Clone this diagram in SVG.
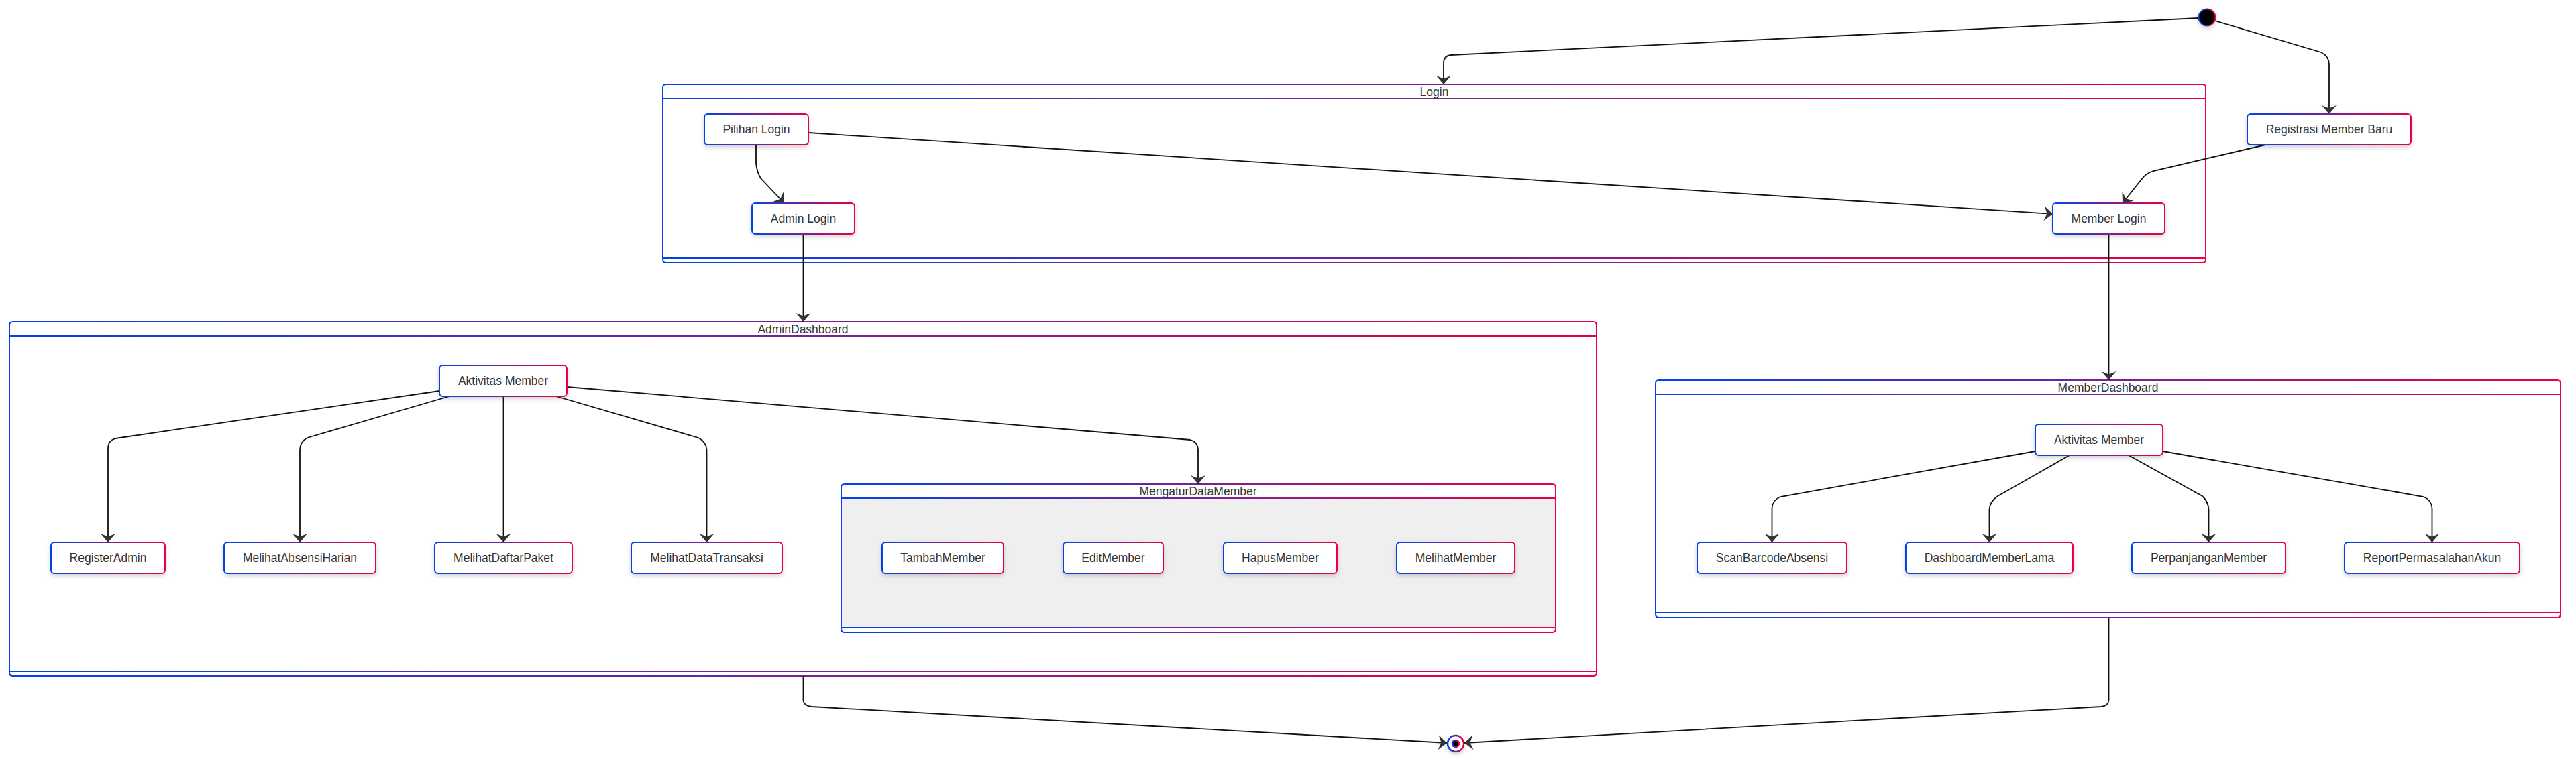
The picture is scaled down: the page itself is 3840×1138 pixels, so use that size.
<svg xmlns="http://www.w3.org/2000/svg" width="3840" height="1138" viewBox="0 0 3840 1138">
<defs>
<linearGradient id="gr" x1="0" y1="0" x2="1" y2="0"><stop offset="0" stop-color="#0042eb"/><stop offset="1" stop-color="#eb0042"/></linearGradient>
<filter id="sh" x="-20%" y="-30%" width="140%" height="180%"><feDropShadow dx="0" dy="3" stdDeviation="3" flood-color="#000" flood-opacity="0.18"/></filter>
<marker id="arr" viewBox="0 -12 13 24" refX="13" refY="0" markerWidth="13" markerHeight="24" markerUnits="userSpaceOnUse" orient="auto"><path d="M13,0 L0,-11 L4.5,0 L0,11 Z" fill="#333"/></marker>
<style>
.fr{fill:none;stroke:url(#gr);stroke-width:2}
.bg{fill:#fff}
.nd rect{fill:#fff;stroke:url(#gr);stroke-width:2;filter:url(#sh)}
text{font-family:"Liberation Sans",Arial,sans-serif;font-size:17.5px;fill:#333;text-anchor:middle;dominant-baseline:central}
.ed path{fill:none;stroke:#111;stroke-width:1.8;marker-end:url(#arr)}
</style>
</defs>
<rect width="3840" height="1138" fill="#fff"/>

<g id="Login">
<rect class="bg" x="988" y="126" width="2300" height="266" rx="5"/>
<path class="fr" d="M993,126 H3283 Q3288,126 3288,131 V387 Q3288,392 3283,392 H993 Q988,392 988,387 V131 Q988,126 993,126 Z M988,147 H3288 M988,385 H3288"/>
<text x="2138" y="137">Login</text>
</g>
<g id="AdminDashboard">
<rect class="bg" x="14" y="480" width="2366" height="528" rx="5"/>
<path class="fr" d="M19,480 H2375 Q2380,480 2380,485 V1003 Q2380,1008 2375,1008 H19 Q14,1008 14,1003 V485 Q14,480 19,480 Z M14,501 H2380 M14,1002 H2380"/>
<text x="1197" y="491">AdminDashboard</text>
</g>
<g id="MengaturDataMember">
<rect class="bg" x="1254" y="722" width="1065" height="221" rx="5"/>
<rect x="1254" y="743" width="1065" height="193" fill="#efefef"/>
<path class="fr" d="M1259,722 H2314 Q2319,722 2319,727 V938 Q2319,943 2314,943 H1259 Q1254,943 1254,938 V727 Q1254,722 1259,722 Z M1254,743 H2319 M1254,936 H2319"/>
<text x="1786" y="733">MengaturDataMember</text>
</g>
<g id="MemberDashboard">
<rect class="bg" x="2468" y="567" width="1349" height="354" rx="5"/>
<path class="fr" d="M2473,567 H3812 Q3817,567 3817,572 V916 Q3817,921 3812,921 H2473 Q2468,921 2468,916 V572 Q2468,567 2473,567 Z M2468,588 H3817 M2468,914 H3817"/>
<text x="3142.5" y="578">MemberDashboard</text>
</g>

<g id="connectors" class="ed">
<path d="M3277,27 L2163,82 Q2152,83 2152,94 L2152,126"/>
<path d="M3302,31 L3460,78 Q3472,84 3472,96 L3472,170"/>
<path d="M1127,216 L1127,243 Q1128,256 1134,266 L1169,303"/>
<path d="M1206,198 L3060,319"/>
<path d="M3377,216 L3210,255 Q3198,259 3192,268 L3164,303"/>
<path d="M1197.5,349 L1197.5,480"/>
<path d="M3143.5,349 L3143.5,567"/>
<path d="M655,583 L172,654 Q161,657 161,669 L161,809"/>
<path d="M670,591 L458,653 Q447,659 447,671 L447,809"/>
<path d="M750.5,591 L750.5,809"/>
<path d="M829,591 L1041,653 Q1053,659 1053.5,671 L1053.5,809"/>
<path d="M845,577 L1774,656 Q1786,659 1786,671 L1786,722"/>
<path d="M3034,673 L2654,741 Q2642,746 2641.5,758 L2641.5,809"/>
<path d="M3085,679 L2978,740 Q2966,748 2965.5,760 L2965.5,809"/>
<path d="M3173,679 L3283,740 Q3292,748 3292.5,760 L3292.5,809"/>
<path d="M3224,673 L3613,741 Q3625,746 3625.5,758 L3625.5,809"/>
<path d="M1197.5,1008 L1197.5,1044 Q1198,1053 1210,1054 L2157,1108"/>
<path d="M3143.5,921 L3143.5,1044 Q3143,1053 3132,1054 L2183,1108"/>
</g>

<g id="start"><circle cx="3290" cy="26" r="12.5" fill="#000" stroke="url(#gr)" stroke-width="2" filter="url(#sh)"/></g>
<g id="end">
<circle cx="2170" cy="1109" r="12" fill="#fff" stroke="url(#gr)" stroke-width="2.5" filter="url(#sh)"/>
<circle cx="2170" cy="1109" r="5" fill="#000" stroke="url(#gr)" stroke-width="2.5"/>
</g>

<g id="PilihanLogin" class="nd"><rect x="1050" y="170" width="155" height="46" rx="5"/><text x="1127.5" y="193">Pilihan Login</text></g>
<g id="AdminLogin" class="nd"><rect x="1121" y="303" width="153" height="46" rx="5"/><text x="1197.5" y="326">Admin Login</text></g>
<g id="RegistrasiMemberBaru" class="nd"><rect x="3350" y="170" width="244" height="46" rx="5"/><text x="3472" y="193">Registrasi Member Baru</text></g>
<g id="MemberLogin" class="nd"><rect x="3060" y="303" width="167" height="46" rx="5"/><text x="3143.5" y="326">Member Login</text></g>

<g id="AdminAktivitasMember" class="nd"><rect x="655" y="545" width="190" height="46" rx="5"/><text x="750" y="568">Aktivitas Member</text></g>
<g id="RegisterAdmin" class="nd"><rect x="76" y="809" width="170" height="46" rx="5"/><text x="161" y="832">RegisterAdmin</text></g>
<g id="MelihatAbsensiHarian" class="nd"><rect x="334" y="809" width="226" height="46" rx="5"/><text x="447" y="832">MelihatAbsensiHarian</text></g>
<g id="MelihatDaftarPaket" class="nd"><rect x="648" y="809" width="205" height="46" rx="5"/><text x="750.5" y="832">MelihatDaftarPaket</text></g>
<g id="MelihatDataTransaksi" class="nd"><rect x="941" y="809" width="225" height="46" rx="5"/><text x="1053.5" y="832">MelihatDataTransaksi</text></g>

<g id="TambahMember" class="nd"><rect x="1315" y="809" width="181" height="46" rx="5"/><text x="1405.5" y="832">TambahMember</text></g>
<g id="EditMember" class="nd"><rect x="1585" y="809" width="149" height="46" rx="5"/><text x="1659.5" y="832">EditMember</text></g>
<g id="HapusMember" class="nd"><rect x="1824" y="809" width="169" height="46" rx="5"/><text x="1908.5" y="832">HapusMember</text></g>
<g id="MelihatMember" class="nd"><rect x="2082" y="809" width="176" height="46" rx="5"/><text x="2170" y="832">MelihatMember</text></g>

<g id="MemberAktivitasMember" class="nd"><rect x="3034" y="633" width="190" height="46" rx="5"/><text x="3129" y="656">Aktivitas Member</text></g>
<g id="ScanBarcodeAbsensi" class="nd"><rect x="2530" y="809" width="223" height="46" rx="5"/><text x="2641.5" y="832">ScanBarcodeAbsensi</text></g>
<g id="DashboardMemberLama" class="nd"><rect x="2841" y="809" width="249" height="46" rx="5"/><text x="2965.5" y="832">DashboardMemberLama</text></g>
<g id="PerpanjanganMember" class="nd"><rect x="3178" y="809" width="229" height="46" rx="5"/><text x="3292.5" y="832">PerpanjanganMember</text></g>
<g id="ReportPermasalahanAkun" class="nd"><rect x="3495" y="809" width="261" height="46" rx="5"/><text x="3625.5" y="832">ReportPermasalahanAkun</text></g>
</svg>
